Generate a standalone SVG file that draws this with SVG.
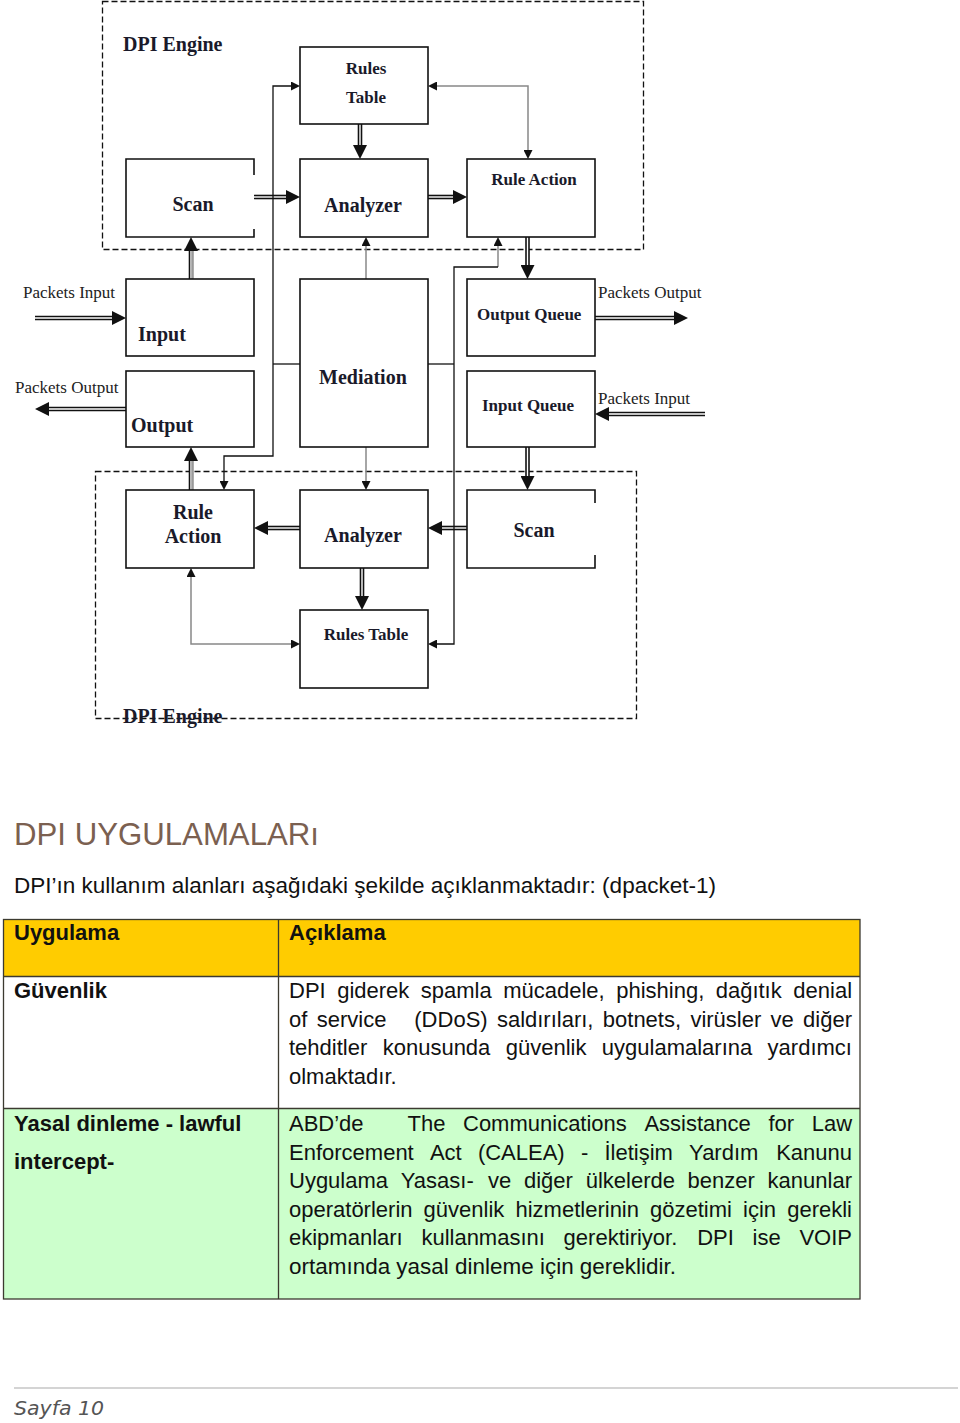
<svg xmlns="http://www.w3.org/2000/svg" width="960" height="1423" viewBox="0 0 960 1423">
<style>
.bg{fill:#fff}
.box{fill:#fff;stroke:#111;stroke-width:1.6}
.edge{fill:none;stroke:#111;stroke-width:1.6}
.dash{fill:none;stroke:#111;stroke-width:1.3;stroke-dasharray:6 3}
.lbl{font-family:"Liberation Serif","Times New Roman",serif;font-weight:bold;fill:#1a1a2a}
.l20{font-size:20px}
.l17{font-size:17px}
.pk{font-family:"Liberation Serif","Times New Roman",serif;font-size:17px;fill:#222}
.dbl{fill:none;stroke:#111;stroke-width:4.6}
.gap{fill:none;stroke:#fff;stroke-width:1.4}
.gry{fill:none;stroke:#999;stroke-width:1.5}
.thin{fill:none;stroke:#888;stroke-width:1.5}
.bus{fill:none;stroke:#111;stroke-width:1.3}
.body{font-family:"Liberation Sans",Arial,sans-serif;font-size:22px;fill:#111}
.bold{font-weight:bold}
.cell{stroke:#3c3a30;stroke-width:1.3}
</style>
<defs>
<marker id="big" viewBox="0 -7 14 14" refX="0" refY="0" markerWidth="14" markerHeight="14" markerUnits="userSpaceOnUse" orient="auto-start-reverse"><path d="M0,-7 L14,0 L0,7 z" fill="#111"/></marker>
<marker id="sm" viewBox="0 -4.5 9 9" refX="0" refY="0" markerWidth="9" markerHeight="9" markerUnits="userSpaceOnUse" orient="auto-start-reverse"><path d="M0,-4.5 L9,0 L0,4.5 z" fill="#111"/></marker>
</defs>
<rect class="bg" x="0" y="0" width="960" height="1423"/>

<!-- DPI engine containers -->
<g id="engine-top">
<rect class="dash" x="102.5" y="1.5" width="541" height="248"/>
<text class="lbl l20" x="123" y="51">DPI Engine</text>
</g>
<g id="engine-bottom">
<rect class="dash" x="95.5" y="471.5" width="541" height="247"/>
</g>

<!-- connectors -->
<g id="connectors">
<path class="dbl" d="M254,197 H286" marker-end="url(#big)"/><path class="gap" d="M254,197 H286"/>
<path class="dbl" d="M428,197 H453" marker-end="url(#big)"/><path class="gap" d="M428,197 H453"/>
<path class="dbl" d="M360,124 V145" marker-end="url(#big)"/><path class="gap" d="M360,124 V145"/>
<path class="dbl" d="M191,279 V251" marker-end="url(#big)"/><path class="gap" d="M191,279 V251"/><path class="gry" d="M192.6,279 V251"/>
<path class="dbl" d="M527.5,237 V265" marker-end="url(#big)"/><path class="gap" d="M527.5,237 V265"/>
<path class="dbl" d="M35,318 H112" marker-end="url(#big)"/><path class="gap" d="M35,318 H112"/>
<path class="dbl" d="M126,409 H49" marker-end="url(#big)"/><path class="gap" d="M126,409 H49"/>
<path class="dbl" d="M595,318 H674" marker-end="url(#big)"/><path class="gap" d="M595,318 H674"/>
<path class="dbl" d="M705,414 H609" marker-end="url(#big)"/><path class="gap" d="M705,414 H609"/>
<path class="dbl" d="M191,490 V461" marker-end="url(#big)"/><path class="gap" d="M191,490 V461"/><path class="gry" d="M192.6,490 V461"/>
<path class="dbl" d="M527.5,447 V476" marker-end="url(#big)"/><path class="gap" d="M527.5,447 V476"/>
<path class="dbl" d="M300,528 H268" marker-end="url(#big)"/><path class="gap" d="M300,528 H268"/>
<path class="dbl" d="M467,528 H442" marker-end="url(#big)"/><path class="gap" d="M467,528 H442"/>
<path class="dbl" d="M362,568 V596" marker-end="url(#big)"/><path class="gap" d="M362,568 V596"/>
<path class="thin" d="M528,150 V86 H437" marker-start="url(#sm)" marker-end="url(#sm)"/>
<path class="thin" d="M366,279 V246" marker-end="url(#sm)"/>
<path class="thin" d="M366,447 V481" marker-end="url(#sm)"/>
<path class="thin" d="M191,577 V644 H291" marker-start="url(#sm)" marker-end="url(#sm)"/>
<path class="thin" d="M498,267 V246" marker-end="url(#sm)"/>
<path class="bus" d="M291,86 H273 V456 H224 V481" marker-start="url(#sm)" marker-end="url(#sm)"/>
<path class="bus" d="M273,364 H300"/>
<path class="bus" d="M498,267 H454 V644 H437" marker-end="url(#sm)"/>
<path class="bus" d="M428,364 H454"/>
</g>

<!-- top engine nodes -->
<g id="rules-table-top"><rect class="box" x="300" y="47" width="128" height="77"/>
<text class="lbl l17" x="366" y="74" text-anchor="middle">Rules</text>
<text class="lbl l17" x="366" y="103" text-anchor="middle">Table</text></g>
<g id="scan-top"><path class="edge" d="M254,175 V159 H126 V237 H254 V229"/>
<text class="lbl l20" x="193" y="211" text-anchor="middle">Scan</text></g>
<g id="analyzer-top"><rect class="box" x="300" y="159" width="128" height="78"/>
<text class="lbl l20" x="363" y="212" text-anchor="middle">Analyzer</text></g>
<g id="rule-action-top"><rect class="box" x="467" y="159" width="128" height="78"/>
<text class="lbl l17" x="534" y="185" text-anchor="middle">Rule Action</text></g>

<!-- middle nodes -->
<g id="input"><rect class="box" x="126" y="279" width="128" height="77"/>
<text class="lbl l20" x="138" y="341">Input</text></g>
<g id="output"><rect class="box" x="126" y="371" width="128" height="76"/>
<text class="lbl l20" x="131" y="432">Output</text></g>
<g id="mediation"><rect class="box" x="300" y="279" width="128" height="168"/>
<text class="lbl l20" x="319" y="384">Mediation</text></g>
<g id="output-queue"><rect class="box" x="467" y="279" width="128" height="77"/>
<text class="lbl l17" x="477" y="320">Output Queue</text></g>
<g id="input-queue"><rect class="box" x="467" y="371" width="128" height="76"/>
<text class="lbl l17" x="482" y="411">Input Queue</text></g>
<g id="packet-labels">
<text class="pk" x="23" y="298">Packets Input</text>
<text class="pk" x="15" y="393">Packets Output</text>
<text class="pk" x="598" y="298">Packets Output</text>
<text class="pk" x="598" y="404">Packets Input</text>
</g>

<!-- bottom engine nodes -->
<g id="rule-action-bottom"><rect class="box" x="126" y="490" width="128" height="78"/>
<text class="lbl l20" x="193" y="519" text-anchor="middle">Rule</text>
<text class="lbl l20" x="193" y="543" text-anchor="middle">Action</text></g>
<g id="analyzer-bottom"><rect class="box" x="300" y="490" width="128" height="78"/>
<text class="lbl l20" x="363" y="542" text-anchor="middle">Analyzer</text></g>
<g id="scan-bottom"><path class="edge" d="M595,503 V490 H467 V568 H595 V555"/>
<text class="lbl l20" x="534" y="537" text-anchor="middle">Scan</text></g>
<g id="rules-table-bottom"><rect class="box" x="300" y="610" width="128" height="78"/>
<text class="lbl l17" x="366" y="640" text-anchor="middle">Rules Table</text></g>
<text class="lbl l20" x="123" y="723">DPI Engine</text>

<!-- text section -->
<g id="heading">
<text x="14" y="845" font-family="Liberation Sans, Arial, sans-serif" font-size="31" fill="#7b6050" textLength="305" lengthAdjust="spacingAndGlyphs">DPI UYGULAMALARı</text>
<text class="body" x="14" y="893" textLength="702" lengthAdjust="spacingAndGlyphs">DPI’ın kullanım alanları aşağıdaki şekilde açıklanmaktadır: (dpacket-1)</text>
</g>

<g id="table">
<rect x="3" y="919" width="857" height="57" fill="#ffcc00"/>
<rect x="3" y="976" width="857" height="132" fill="#ffffff"/>
<rect x="3" y="1108" width="857" height="191" fill="#ccffcc"/>
<rect class="cell" x="3.5" y="919.5" width="856.5" height="379.5" fill="none"/>
<path class="cell" d="M3,976.5 H860 M3,1108.5 H860 M278.5,919 V1299" fill="none"/>

<text class="body bold" x="14" y="940">Uygulama</text>
<text class="body bold" x="289" y="940">Açıklama</text>

<text class="body bold" x="14" y="998">Güvenlik</text>
<text class="body" y="998"><tspan x="289">DPI</tspan><tspan x="337.2">giderek</tspan><tspan x="420.8">spamla</tspan><tspan x="503.2">mücadele,</tspan><tspan x="616.2">phishing,</tspan><tspan x="715.7">dağıtık</tspan><tspan x="793.3">denial</tspan></text>
<text class="body" y="1026.5"><tspan x="289">of</tspan><tspan x="316.7">service</tspan><tspan x="414.3">(DDoS)</tspan><tspan x="496.9">saldırıları,</tspan><tspan x="602.8">botnets,</tspan><tspan x="690.4">virüsler</tspan><tspan x="770.6">ve</tspan><tspan x="803.1">diğer</tspan></text>
<text class="body" y="1055"><tspan x="289">tehditler</tspan><tspan x="382.7">konusunda</tspan><tspan x="505.7">güvenlik</tspan><tspan x="601.8">uygulamalarına</tspan><tspan x="767.6">yardımcı</tspan></text>
<text class="body" x="289" y="1083.5">olmaktadır.</text>

<text class="body bold" x="14" y="1131">Yasal dinleme - lawful</text>
<text class="body bold" x="14" y="1169">intercept-</text>
<text class="body" y="1131"><tspan x="289">ABD’de</tspan><tspan x="407.5">The</tspan><tspan x="463">Communications</tspan><tspan x="644.4">Assistance</tspan><tspan x="768.4">for</tspan><tspan x="811.7">Law</tspan></text>
<text class="body" y="1159.5"><tspan x="289">Enforcement</tspan><tspan x="429.9">Act</tspan><tspan x="477.9">(CALEA)</tspan><tspan x="580.9">-</tspan><tspan x="604.4">İletişim</tspan><tspan x="689.1">Yardım</tspan><tspan x="776.2">Kanunu</tspan></text>
<text class="body" y="1188"><tspan x="289">Uygulama</tspan><tspan x="400.8">Yasası-</tspan><tspan x="488.1">ve</tspan><tspan x="524">diğer</tspan><tspan x="585.7">ülkelerde</tspan><tspan x="687.6">benzer</tspan><tspan x="767.6">kanunlar</tspan></text>
<text class="body" y="1216.5"><tspan x="289">operatörlerin</tspan><tspan x="423.6">güvenlik</tspan><tspan x="515.5">hizmetlerinin</tspan><tspan x="650">gözetimi</tspan><tspan x="743.1">için</tspan><tspan x="787.2">gerekli</tspan></text>
<text class="body" y="1245"><tspan x="289">ekipmanları</tspan><tspan x="421.4">kullanmasını</tspan><tspan x="563.6">gerektiriyor.</tspan><tspan x="697.2">DPI</tspan><tspan x="752.6">ise</tspan><tspan x="799.4">VOIP</tspan></text>
<text class="body" x="289" y="1273.5" textLength="387" lengthAdjust="spacingAndGlyphs">ortamında yasal dinleme için gereklidir.</text>
</g>

<g id="footer">
<line x1="14" y1="1388" x2="958" y2="1388" stroke="#d4d4d4" stroke-width="2"/>
<text x="14" y="1415" font-family="DejaVu Sans, sans-serif" font-style="italic" font-size="20" fill="#555" textLength="90" lengthAdjust="spacingAndGlyphs">Sayfa 10</text>
</g>
</svg>
